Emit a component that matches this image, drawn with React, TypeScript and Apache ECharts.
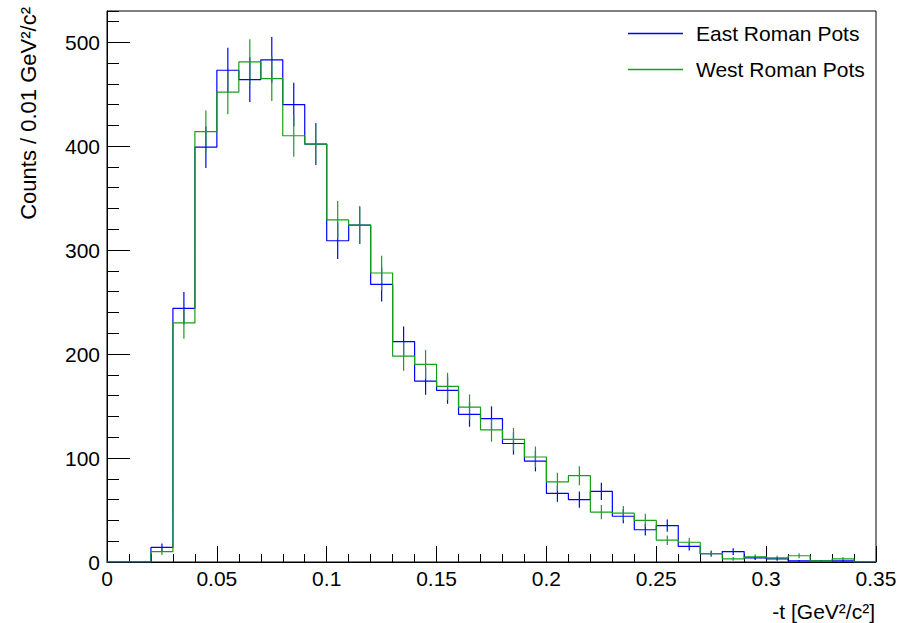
import { useEffect, useRef } from 'react';
import * as echarts from 'echarts';

// Lower edges of the 0.01-wide bins of -t
const binLowEdges = [
  0.0, 0.01, 0.02, 0.03, 0.04, 0.05, 0.06, 0.07, 0.08, 0.09,
  0.1, 0.11, 0.12, 0.13, 0.14, 0.15, 0.16, 0.17, 0.18, 0.19,
  0.2, 0.21, 0.22, 0.23, 0.24, 0.25, 0.26, 0.27, 0.28, 0.29,
  0.3, 0.31, 0.32, 0.33, 0.34,
];

const eastCounts = [
  0, 0, 14, 244, 399, 473, 464, 483, 440, 402,
  309, 324, 267, 212, 174, 165, 142, 138, 114, 97,
  66, 60, 68, 44, 31, 35, 15, 8, 10, 4,
  3, 1, 1, 1, 0,
];

const westCounts = [
  0, 0, 10, 230, 414, 452, 481, 465, 410, 402,
  329, 324, 278, 198, 190, 169, 149, 127, 118, 101,
  77, 83, 48, 47, 40, 21, 19, 8, 3, 5,
  4, 6, 1, 3, 0,
];

const seriesNames = ['East Roman Pots', 'West Roman Pots'];
const seriesColors = ['#0000ff', '#16a016'];
const yMajorTickValues = [0, 100, 200, 300, 400, 500];
const xTitle = '-t [GeV²/c²]';
const yTitle = 'Counts / 0.01 GeV²/c²';

const BIN_WIDTH = 0.01;
const X_MAX = 0.35;
const Y_MAX = 530;
const FONT = "'Liberation Sans', Arial, Helvetica, sans-serif";

function histPoints(counts: number[]) {
  const pts = counts.map((c, i) => [binLowEdges[i], c]);
  pts.push([X_MAX, counts[counts.length - 1]]);
  return pts;
}

function errorPoints(counts: number[]) {
  return counts
    .map((c, i) => [binLowEdges[i] + BIN_WIDTH / 2, c, Math.sqrt(c)])
    .filter((d) => d[1] > 0);
}

function errorSeries(name: string, counts: number[], color: string) {
  return {
    type: 'custom',
    name,
    xAxisIndex: 0,
    yAxisIndex: 0,
    clip: true,
    data: errorPoints(counts),
    renderItem: (_params: any, api: any) => {
      const x = api.value(0);
      const y = api.value(1);
      const e = api.value(2);
      const p1 = api.coord([x, y - e]);
      const p2 = api.coord([x, y + e]);
      return {
        type: 'line',
        shape: { x1: p1[0], y1: p1[1], x2: p2[0], y2: p2[1] },
        style: { stroke: color, lineWidth: 1.2 },
      };
    },
  };
}

function histSeries(name: string, counts: number[], color: string) {
  return {
    type: 'line',
    name,
    xAxisIndex: 0,
    yAxisIndex: 0,
    step: 'end',
    symbol: 'none',
    showSymbol: false,
    color,
    lineStyle: { color, width: 1.2 },
    data: histPoints(counts),
  };
}

export default function App() {
  const ref = useRef<HTMLDivElement>(null);

  useEffect(() => {
    if (!ref.current) return;
    const chart = echarts.init(ref.current, undefined, { renderer: 'svg' });
    const black = '#000';
    chart.setOption({
      animation: false,
      backgroundColor: '#fff',
      textStyle: { fontFamily: FONT },
      grid: {
        left: 107,
        right: 31,
        top: 11,
        bottom: 61,
        show: true,
        borderColor: black,
        borderWidth: 1,
        backgroundColor: 'transparent',
        containLabel: false,
        outerBoundsMode: 'none',
      },
      legend: {
        orient: 'vertical',
        left: 623,
        top: 18,
        itemWidth: 55,
        itemHeight: 1.5,
        itemGap: 15,
        icon: 'rect',
        data: seriesNames,
        selectedMode: false,
        textStyle: {
          fontFamily: FONT,
          fontSize: 21,
          color: black,
          padding: [0, 0, 0, 8],
        },
      },
      xAxis: {
        type: 'value',
        min: 0,
        max: X_MAX,
        interval: 0.05,
        axisLine: { show: true, onZero: false, lineStyle: { color: black, width: 1 } },
        axisTick: { show: true, inside: true, length: 16, lineStyle: { color: black, width: 1 } },
        minorTick: { show: true, splitNumber: 5, length: 8, lineStyle: { color: black, width: 1 } },
        splitLine: { show: false },
        minorSplitLine: { show: false },
        axisLabel: {
          color: black,
          fontFamily: FONT,
          fontSize: 21,
          margin: 6,
        },
      },
      yAxis: [
        {
          type: 'value',
          position: 'left',
          min: 0,
          max: Y_MAX,
          interval: 20,
          axisLine: { show: true, onZero: false, lineStyle: { color: black, width: 1 } },
          axisTick: { show: true, inside: true, length: 12, lineStyle: { color: black, width: 1 } },
          axisLabel: { show: false },
          splitLine: { show: false },
        },
        {
          type: 'value',
          position: 'left',
          offset: 0,
          min: 0,
          max: Y_MAX,
          interval: 100,
          axisLine: { show: false },
          axisTick: {
            show: true,
            inside: true,
            length: 23,
            customValues: yMajorTickValues,
            lineStyle: { color: black, width: 1 },
          },
          axisLabel: {
            show: true,
            customValues: yMajorTickValues,
            color: black,
            fontFamily: FONT,
            fontSize: 21,
            margin: 7,
            formatter: (v: number) => (v % 100 === 0 ? String(v) : ''),
          },
          splitLine: { show: false },
        },
      ],
      graphic: [
        {
          type: 'text',
          x: 875,
          y: 611,
          style: {
            text: xTitle,
            fontFamily: FONT,
            fontSize: 21,
            fill: black,
            align: 'right',
            verticalAlign: 'middle',
          },
        },
        {
          type: 'text',
          x: 28,
          y: 7,
          rotation: Math.PI / 2,
          style: {
            text: yTitle,
            fontFamily: FONT,
            fontSize: 22,
            fill: black,
            align: 'right',
            verticalAlign: 'middle',
          },
        },
      ],
      series: [
        histSeries(seriesNames[0], eastCounts, seriesColors[0]),
        errorSeries('East errors', eastCounts, seriesColors[0]),
        histSeries(seriesNames[1], westCounts, seriesColors[1]),
        errorSeries('West errors', westCounts, seriesColors[1]),
      ],
    });
    return () => chart.dispose();
  }, []);

  return (
    <div
      ref={ref}
      style={{ position: 'absolute', left: 0, top: 0, width: 907, height: 623 }}
    />
  );
}
